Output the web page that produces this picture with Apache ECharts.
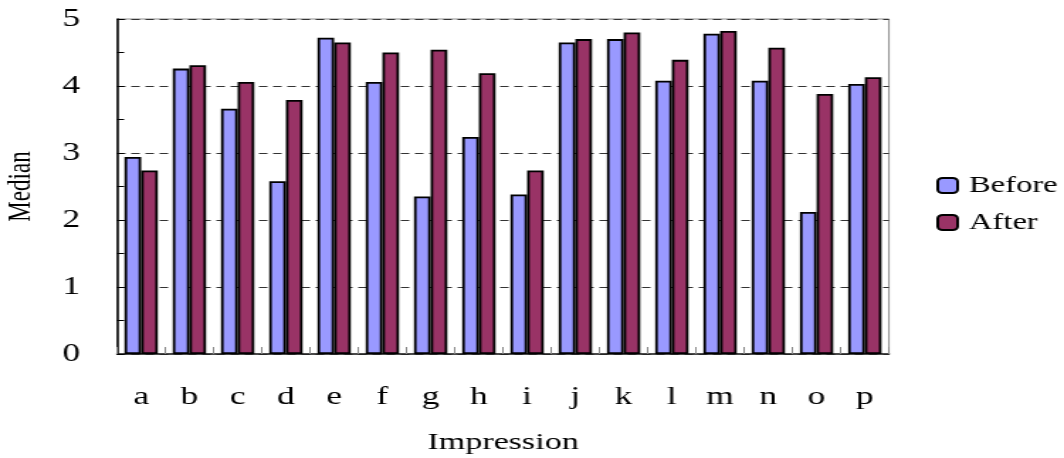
<!DOCTYPE html>
<html>
<head>
<meta charset="utf-8">
<title>Median before and after, by impression</title>
<script src="https://cdn.jsdelivr.net/npm/echarts@6/dist/echarts.min.js"></script>
<style>
  html, body { margin: 0; padding: 0; background: #ffffff; overflow: hidden; }
  /* the chart is laid out narrow and widened, giving the broad serif lettering */
  #chart { width: 750px; height: 458px; transform: scaleX(1.41867); transform-origin: 0 0; }
</style>
</head>
<body>
<div id="chart"></div>
<script>
const categories = ['a', 'b', 'c', 'd', 'e', 'f', 'g', 'h', 'i', 'j', 'k', 'l', 'm', 'n', 'o', 'p'];
const beforeValues = [2.94, 4.26, 3.66, 2.58, 4.72, 4.06, 2.35, 3.24, 2.38, 4.65, 4.70, 4.08, 4.78, 4.08, 2.12, 4.03];
const afterValues  = [2.74, 4.31, 4.06, 3.79, 4.65, 4.50, 4.54, 4.19, 2.74, 4.70, 4.80, 4.39, 4.82, 4.57, 3.88, 4.13];
const yTicks = [0, 1, 2, 3, 4, 5];

const serif = 'Liberation Serif';
const chart = echarts.init(document.getElementById('chart'), null, { renderer: 'canvas' });

chart.setOption({
  animation: false,
  backgroundColor: '#ffffff',
  textStyle: { fontFamily: serif, color: '#000' },
  grid: {
    left: 82.5, right: 123.4, top: 19, bottom: 104,
    outerBoundsMode: 'none',
    containLabel: false,
    show: true, borderColor: '#8c8c8c', borderWidth: 1, backgroundColor: 'transparent'
  },
  legend: {
    orient: 'vertical',
    left: 655, top: 169,
    itemWidth: 14, itemHeight: 15, itemGap: 14,
    textStyle: { fontFamily: serif, fontSize: 23, color: '#000', padding: [0, 0, 0, 3] },
    data: ['Before', 'After']
  },
  xAxis: {
    type: 'category',
    data: categories,
    name: 'Impression',
    nameLocation: 'middle',
    nameGap: 77,
    nameTextStyle: { fontFamily: serif, fontSize: 24, color: '#000' },
    axisLine: { lineStyle: { color: '#222', width: 1.5 } },
    axisTick: { show: true, inside: true, length: 7, lineStyle: { color: '#888', width: 1 } },
    axisLabel: { margin: 31, fontFamily: serif, fontSize: 25, color: '#000' }
  },
  yAxis: {
    type: 'value',
    min: yTicks[0], max: yTicks[yTicks.length - 1], interval: 1,
    name: 'Median',
    nameLocation: 'middle',
    nameGap: 56,
    nameTextStyle: { fontFamily: serif, fontSize: 23, color: '#000' },
    axisLine: { show: true, lineStyle: { color: '#000', width: 1.5 } },
    axisTick: { show: true, inside: true, length: 5, lineStyle: { color: '#000' } },
    minorTick: { show: true, splitNumber: 2, length: 5, lineStyle: { color: '#000' } },
    axisLabel: { margin: 26, fontFamily: serif, fontSize: 25, color: '#000' },
    splitLine: { show: true, lineStyle: { color: '#333', type: [6, 4], width: 1 } }
  },
  series: [
    {
      name: 'Before',
      type: 'bar',
      data: beforeValues,
      barGap: '0%',
      barCategoryGap: '31%',
      itemStyle: { color: '#9999FF', borderColor: '#000', borderWidth: 1.8 }
    },
    {
      name: 'After',
      type: 'bar',
      data: afterValues,
      itemStyle: { color: '#993366', borderColor: '#000', borderWidth: 1.8 }
    }
  ]
});
</script>
</body>
</html>
